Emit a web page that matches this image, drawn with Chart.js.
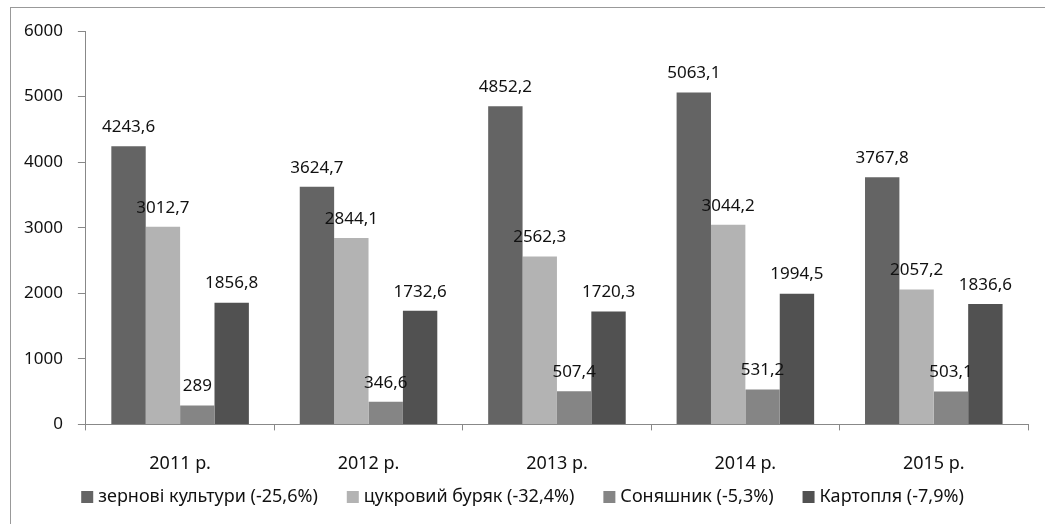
<!DOCTYPE html>
<html>
<head>
<meta charset="utf-8">
<script src="https://cdn.jsdelivr.net/npm/chart.js@4"></script>
<style>
    body { margin: 0; background: #fff; }
    #frame { position: absolute; left: 10px; top: 7px; width: 1100px; height: 600px; border: 1px solid #999; }
    #wrap { position: absolute; left: 0; top: 0; width: 1045px; height: 524px; }
</style>
</head>
<body>
<div id="frame"></div>
<div id="wrap"><canvas id="cropChart"></canvas></div>
<script>
const roky = ['2011 р.', '2012 р.', '2013 р.', '2014 р.', '2015 р.'];

let zernovi = [4243.6, 3624.7, 4852.2, 5063.1, 3767.8];
let buryak = [3012.7, 2844.1, 2562.3, 3044.2, 2057.2];
let sonyashnyk = [289, 346.6, 507.4, 531.2, 503.1];
let kartoplya = [1856.8, 1732.6, 1720.3, 1994.5, 1836.6];

let yTicks = [0, 1000, 2000, 3000, 4000, 5000, 6000];

const fontName = '"Noto Sans", "DejaVu Sans", sans-serif';

// підписи значень над стовпчиками
const valueLabels = {
    id: 'valueLabels',
    afterDatasetsDraw(chart) {
        const c = chart.ctx;
        c.save();
        c.font = '17px ' + fontName;
        c.fillStyle = '#111';
        c.textAlign = 'center';
        c.textBaseline = 'middle';
        chart.data.datasets.forEach((ds, i) => {
            const meta = chart.getDatasetMeta(i);
            meta.data.forEach((bar, j) => {
                const txt = String(ds.data[j]).replace('.', ',');
                c.fillText(txt, bar.x, bar.y - 19);
            });
        });
        c.restore();
    }
};

// легенда внизу (малюємо самі, щоб відступи були як в Excel)
const bottomLegend = {
    id: 'bottomLegend',
    afterDraw(chart) {
        const c = chart.ctx;
        const box = 12, gapText = 5, gapItem = 29, y = 497;
        c.save();
        c.font = '18px ' + fontName;
        c.textBaseline = 'middle';
        c.textAlign = 'left';
        const items = chart.data.datasets.map(ds => ({
            text: ds.label, color: ds.backgroundColor, w: c.measureText(ds.label).width
        }));
        let total = items.reduce((s, it) => s + box + gapText + it.w, 0) + gapItem * (items.length - 1);
        let x = chart.width / 2 - total / 2;
        items.forEach(it => {
            c.fillStyle = it.color;
            c.fillRect(x, y - box / 2, box, box);
            c.fillStyle = '#111';
            c.fillText(it.text, x + box + gapText, y);
            x += box + gapText + it.w + gapItem;
        });
        c.restore();
    }
};

function makeSet(label, data, color) {
    return {
        label: label,
        data: data,
        backgroundColor: color,
        borderColor: color,
        borderWidth: 0,
        categoryPercentage: 0.73,
        barPercentage: 1.0
    };
}

new Chart(document.getElementById('cropChart'), {
    type: 'bar',
    data: {
        labels: roky,
        datasets: [
            makeSet('зернові культури (-25,6%)', zernovi, '#646464'),
            makeSet('цукровий буряк (-32,4%)', buryak, '#b3b3b3'),
            makeSet('Соняшник (-5,3%)', sonyashnyk, '#858585'),
            makeSet('Картопля (-7,9%)', kartoplya, '#515151')
        ]
    },
    options: {
        responsive: true,
        maintainAspectRatio: false,
        animation: false,
        layout: { padding: { left: 9, right: 17, top: 31, bottom: 26 } },
        scales: {
            y: {
                min: 0,
                max: 6000,
                afterBuildTicks: (axis) => { axis.ticks = yTicks.map(v => ({ value: v })); },
                grid: { drawOnChartArea: false, drawTicks: true, tickLength: 8, color: '#888' },
                border: { color: '#888' },
                ticks: {
                    color: '#111', padding: 15,
                    font: { size: 17, family: fontName },
                    callback: (v) => String(v)
                }
            },
            x: {
                grid: { drawOnChartArea: false, drawTicks: true, tickLength: 6, offset: true, color: '#888' },
                border: { color: '#888' },
                ticks: { color: '#111', padding: 23, font: { size: 18, family: fontName } }
            }
        },
        plugins: {
            legend: { display: false },
            tooltip: { enabled: false }
        }
    },
    plugins: [valueLabels, bottomLegend]
});
</script>
</body>
</html>
